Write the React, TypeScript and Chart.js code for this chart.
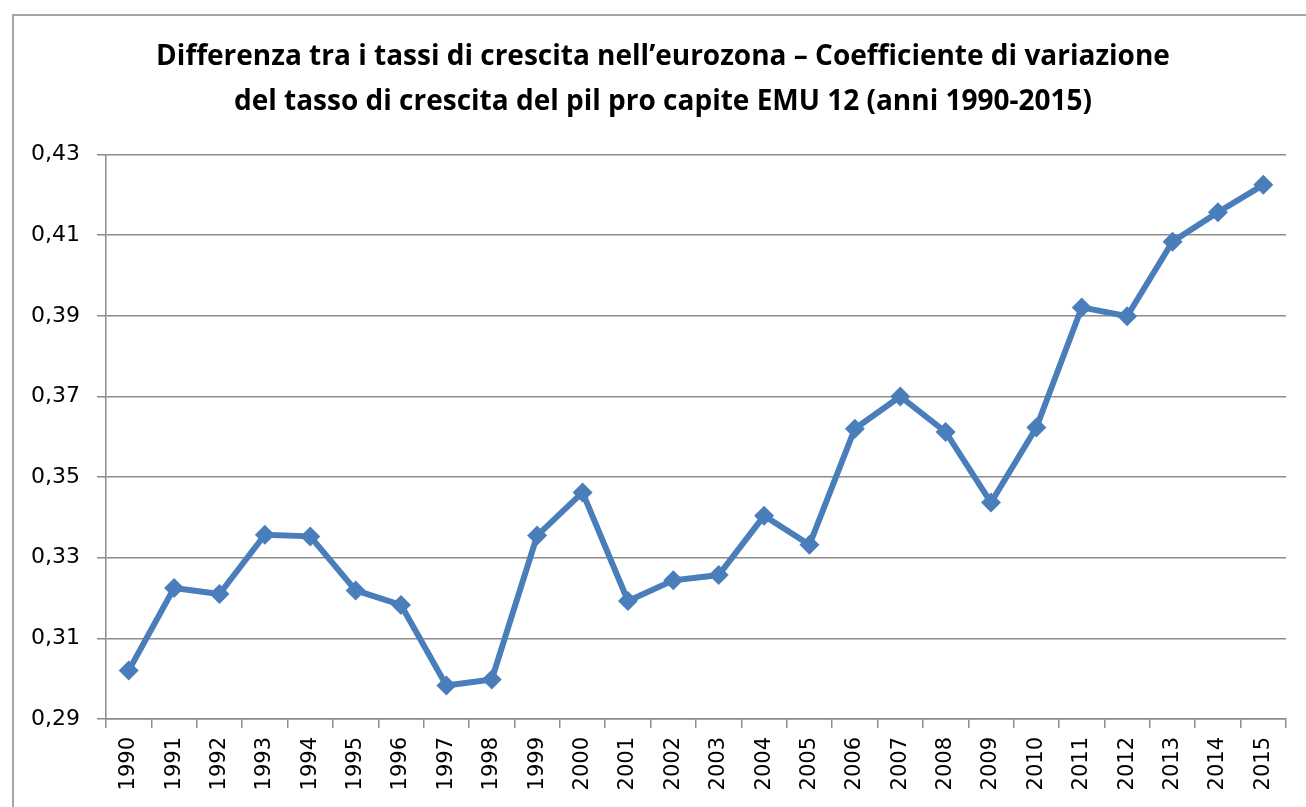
import { useEffect, useRef } from "react";
import { Chart, registerables } from "chart.js";

Chart.register(...registerables);

const years = [
  "1990", "1991", "1992", "1993", "1994", "1995", "1996", "1997", "1998", "1999",
  "2000", "2001", "2002", "2003", "2004", "2005", "2006", "2007", "2008", "2009",
  "2010", "2011", "2012", "2013", "2014", "2015",
];

const coeffVariazione = [
  0.302, 0.3225, 0.321, 0.3357, 0.3353, 0.3219, 0.3183, 0.2983, 0.2998, 0.3355,
  0.3462, 0.3193, 0.3244, 0.3257, 0.3404, 0.3332, 0.362, 0.37, 0.3612, 0.3437,
  0.3623, 0.3921, 0.3899, 0.4084, 0.4157, 0.4225,
];

const yTicks = [0.29, 0.31, 0.33, 0.35, 0.37, 0.39, 0.41, 0.43];

const titleLines = [
  "Differenza tra i tassi di crescita nell\u2019eurozona \u2013 Coefficiente di variazione",
  "del tasso di crescita del pil pro capite EMU 12 (anni 1990-2015)",
];

const GRID = "#8c8c8c";
const LINE = "#4a7ebb";

export default function App() {
  const ref = useRef<HTMLCanvasElement>(null);

  useEffect(() => {
    const chart = new Chart(ref.current!, {
      type: "line",
      data: {
        labels: years,
        datasets: [
          {
            data: coeffVariazione,
            borderColor: LINE,
            backgroundColor: LINE,
            borderWidth: 6,
            pointStyle: "rectRot",
            pointRadius: 10,
            pointBorderWidth: 0,
            tension: 0,
          },
        ],
      },
      options: {
        animation: false,
        responsive: false,
        maintainAspectRatio: false,
        layout: { padding: { left: 20, right: 0, top: 0, bottom: 0 } },
        plugins: {
          legend: { display: false },
          tooltip: { enabled: false },
          title: {
            display: true,
            text: titleLines,
            color: "#000",
            font: { family: "'Open Sans'", size: 28, weight: "bold", lineHeight: 1.6 },
            padding: { top: 35, bottom: 30 },
          },
        },
        scales: {
          x: {
            offset: true,
            grid: {
              offset: true,
              drawOnChartArea: false,
              drawTicks: true,
              tickLength: 9,
              color: GRID,
              lineWidth: 1.5,
            },
            border: { color: GRID, width: 1.5 },
            ticks: {
              minRotation: 90,
              maxRotation: 90,
              autoSkip: false,
              padding: 9,
              color: "#000",
              font: { family: "'DejaVu Sans'", size: 21 },
            },
            afterFit: (s: any) => {
              s.height = 88;
            },
          },
          y: {
            min: 0.29,
            max: 0.43,
            afterBuildTicks: (s: any) => {
              s.ticks = yTicks.map((v) => ({ value: v }));
            },
            ticks: {
              callback: (v: any) => Number(v).toFixed(2).replace(".", ","),
              padding: 17,
              color: "#000",
              font: { family: "'DejaVu Sans'", size: 22 },
            },
            grid: { color: GRID, lineWidth: 1.5, tickLength: 9 },
            border: { color: GRID, width: 1.5 },
            afterFit: (s: any) => {
              s.width = 86;
            },
          },
          y2: {
            position: "right",
            display: true,
            grid: { display: false },
            border: { display: false },
            ticks: { display: false },
            afterFit: (s: any) => {
              s.width = 20;
            },
          },
        },
      },
    } as any);
    return () => chart.destroy();
  }, []);

  return (
    <div
      style={{
        position: "fixed",
        left: 0,
        top: 0,
        width: 1306,
        height: 807,
        overflow: "hidden",
        background: "#fff",
      }}
    >
      <canvas ref={ref} width={1306} height={807} style={{ display: "block" }} />
      <div
        style={{
          position: "absolute",
          left: 12,
          top: 14,
          width: 1400,
          height: 900,
          border: "2px solid #a6a6a6",
          pointerEvents: "none",
        }}
      />
    </div>
  );
}
